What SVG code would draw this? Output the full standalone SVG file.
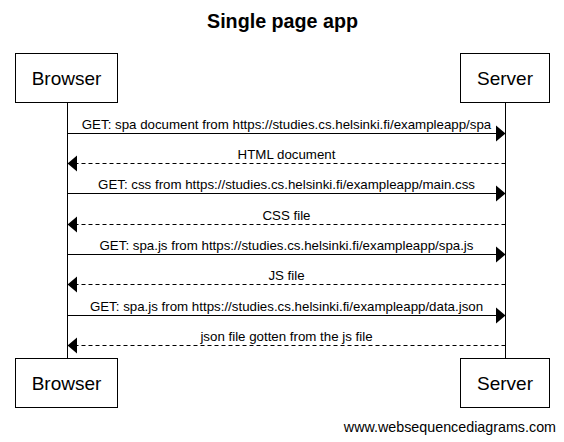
<svg xmlns="http://www.w3.org/2000/svg" width="564" height="442" viewBox="0 0 564 442">
<style>
.box{fill:#fff;stroke:#000;stroke-width:1}
.life{stroke:#000;stroke-width:1}
.pl{font-family:"Liberation Sans",Arial,sans-serif;font-size:19px;text-anchor:middle;fill:#000}
.msg{font-family:"Liberation Sans",Arial,sans-serif;font-size:13.3px;text-anchor:middle;fill:#000}
.solid{stroke:#000;stroke-width:1;fill:none}
.dash{stroke:#000;stroke-width:1;fill:none;stroke-dasharray:4,3}
.head{fill:#000}
</style>
<rect width="564" height="442" fill="#fff"/>
<text x="282.5" y="28" font-family="Liberation Sans,Arial,sans-serif" font-size="19.7" font-weight="bold" text-anchor="middle">Single page app</text>
<g id="lifelines">
<line class="life" x1="67.5" y1="102" x2="67.5" y2="358"/>
<line class="life" x1="505.5" y1="102" x2="505.5" y2="358"/>
</g>
<g id="browser-top"><rect class="box" x="15.5" y="53.5" width="102" height="49"/><text class="pl" x="66.5" y="85">Browser</text></g>
<g id="server-top"><rect class="box" x="460.5" y="53.5" width="89" height="49"/><text class="pl" x="505" y="85">Server</text></g>
<g id="browser-bottom"><rect class="box" x="15.5" y="358.5" width="102" height="49"/><text class="pl" x="66.5" y="390">Browser</text></g>
<g id="server-bottom"><rect class="box" x="460.5" y="358.5" width="89" height="49"/><text class="pl" x="505" y="390">Server</text></g>
<g id="connectors">
<line class="solid" x1="67.5" y1="133.5" x2="496" y2="133.5"/><polygon class="head" points="496,125.5 505.5,133.5 496,141.5"/>
<text class="msg" x="286.5" y="129">GET: spa document from https://studies.cs.helsinki.fi/exampleapp/spa</text>
<line class="dash" x1="505.5" y1="163.5" x2="77" y2="163.5"/><polygon class="head" points="77,155.5 67.5,163.5 77,171.5"/>
<text class="msg" x="286.5" y="159">HTML document</text>
<line class="solid" x1="67.5" y1="193.5" x2="496" y2="193.5"/><polygon class="head" points="496,185.5 505.5,193.5 496,201.5"/>
<text class="msg" x="286.5" y="189">GET: css from https://studies.cs.helsinki.fi/exampleapp/main.css</text>
<line class="dash" x1="505.5" y1="224.5" x2="77" y2="224.5"/><polygon class="head" points="77,216.5 67.5,224.5 77,232.5"/>
<text class="msg" x="286.5" y="220">CSS file</text>
<line class="solid" x1="67.5" y1="254.5" x2="496" y2="254.5"/><polygon class="head" points="496,246.5 505.5,254.5 496,262.5"/>
<text class="msg" x="286.5" y="250">GET: spa.js from https://studies.cs.helsinki.fi/exampleapp/spa.js</text>
<line class="dash" x1="505.5" y1="284.5" x2="77" y2="284.5"/><polygon class="head" points="77,276.5 67.5,284.5 77,292.5"/>
<text class="msg" x="286.5" y="280">JS file</text>
<line class="solid" x1="67.5" y1="315.5" x2="496" y2="315.5"/><polygon class="head" points="496,307.5 505.5,315.5 496,323.5"/>
<text class="msg" x="286.5" y="311">GET: spa.js from https://studies.cs.helsinki.fi/exampleapp/data.json</text>
<line class="dash" x1="505.5" y1="345.5" x2="77" y2="345.5"/><polygon class="head" points="77,337.5 67.5,345.5 77,353.5"/>
<text class="msg" x="286.5" y="341">json file gotten from the js file</text>
</g>
<text x="556" y="432" font-family="Liberation Sans,Arial,sans-serif" font-size="14.3" text-anchor="end">www.websequencediagrams.com</text>
</svg>
